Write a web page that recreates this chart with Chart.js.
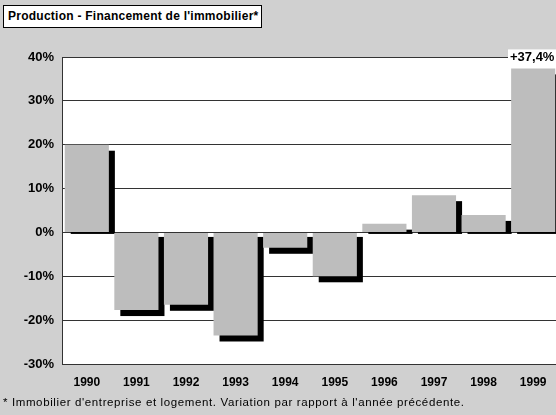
<!DOCTYPE html>
<html>
<head>
<meta charset="utf-8">
<script src="https://cdn.jsdelivr.net/npm/chart.js@4.4.1/dist/chart.umd.min.js"></script>
<style>
  html, body { margin: 0; padding: 0; overflow: hidden; width: 556px; height: 415px; background: #d0d0d0; }
  #wrap { position: relative; width: 556px; height: 415px; overflow: hidden; }
  canvas { position: absolute; left: 0; top: 0; }
  #title { position: absolute; left: 3px; top: 5px; width: 259px; height: 23px; box-sizing: border-box;
           border: 1px solid #000; background: #fff; font: bold 12px "Liberation Sans", Arial, sans-serif;
           letter-spacing: 0.25px; line-height: 21px; padding-left: 4px; color: #000; white-space: nowrap; }
  #note { position: absolute; left: 3px; top: 396px; font: 11.5px "Liberation Sans", Arial, sans-serif;
          letter-spacing: 0.62px; color: #000; white-space: nowrap; }
</style>
</head>
<body>
<div id="wrap">
  <canvas id="c" width="558" height="415"></canvas>
  <div id="title">Production - Financement de l'immobilier*</div>
  <div id="note">* Immobilier d'entreprise et logement. Variation par rapport à l'année précédente.</div>
</div>
<script>
const categories = ['1990', '1991', '1992', '1993', '1994', '1995', '1996', '1997', '1998', '1999'];
const values = [20, -17.7, -16.5, -23.5, -3.5, -10, 2, 8.5, 4, 37.4];
const yMin = -30, yMax = 40, yStep = 10;
const lastLabel = '+37,4%';

const bgPlugin = {
  id: 'bg',
  beforeDraw(chart) {
    const { ctx, chartArea: a } = chart;
    ctx.save();
    ctx.fillStyle = '#d0d0d0';
    ctx.fillRect(0, 0, chart.width, chart.height);
    ctx.fillStyle = '#ffffff';
    ctx.fillRect(a.left, a.top, a.right - a.left, a.bottom - a.top);
    ctx.restore();
  }
};

const shadowPlugin = {
  id: 'shadow',
  beforeDatasetsDraw(chart) {
    const { ctx } = chart;
    const meta = chart.getDatasetMeta(0);
    ctx.save();
    ctx.fillStyle = '#000';
    meta.data.forEach((bar, i) => {
      const p = bar.getProps(['x', 'y', 'base', 'width'], true);
      const l = p.x - p.width / 2 + 6;
      let top, bottom;
      if (values[i] >= 0) { top = p.y + 6; bottom = p.base + 2; }
      else { top = p.base + 4; bottom = p.y + 6; }
      ctx.fillRect(l, top, p.width, bottom - top);
    });
    ctx.restore();
  }
};

const labelPlugin = {
  id: 'lastlabel',
  afterDatasetsDraw(chart) {
    const { ctx } = chart;
    const meta = chart.getDatasetMeta(0);
    const bar = meta.data[values.length - 1];
    const p = bar.getProps(['x', 'y'], true);
    ctx.save();
    ctx.font = 'bold 13px "Liberation Sans", Arial, sans-serif';
    const w = ctx.measureText(lastLabel).width;
    const cy = p.y - 12;
    ctx.fillStyle = '#fff';
    ctx.fillRect(p.x - w / 2 - 3, cy - 7, w + 6, 14);
    ctx.fillStyle = '#000';
    ctx.textAlign = 'center';
    ctx.textBaseline = 'middle';
    ctx.fillText(lastLabel, p.x - 1, cy + 1);
    ctx.restore();
  }
};

new Chart(document.getElementById('c'), {
  type: 'bar',
  data: {
    labels: categories,
    datasets: [{
      data: values,
      backgroundColor: '#bdbdbd',
      borderWidth: 0,
      categoryPercentage: 1.0,
      barPercentage: 0.89
    }]
  },
  options: {
    responsive: false,
    animation: false,
    events: [],
    layout: { padding: { top: 57, left: 0, right: 0, bottom: 0 } },
    plugins: { legend: { display: false }, tooltip: { enabled: false }, title: { display: false } },
    scales: {
      x: {
        grid: { display: false, drawTicks: false },
        border: { display: true, color: '#333' },
        ticks: { color: '#000', padding: 11, font: { family: '"Liberation Sans", Arial, sans-serif', size: 12, weight: 'bold' } },
        afterFit(scale) { scale.height = 51; }
      },
      y: {
        min: yMin, max: yMax,
        grid: { color: '#333', lineWidth: 1, drawTicks: false },
        border: { display: true, color: '#333' },
        ticks: {
          stepSize: yStep, color: '#000', padding: 8,
          font: { family: '"Liberation Sans", Arial, sans-serif', size: 13, weight: 'bold' },
          callback: v => v + '%'
        },
        afterFit(scale) { scale.width = 62; }
      }
    }
  },
  plugins: [bgPlugin, shadowPlugin, labelPlugin]
});
</script>
</body>
</html>
